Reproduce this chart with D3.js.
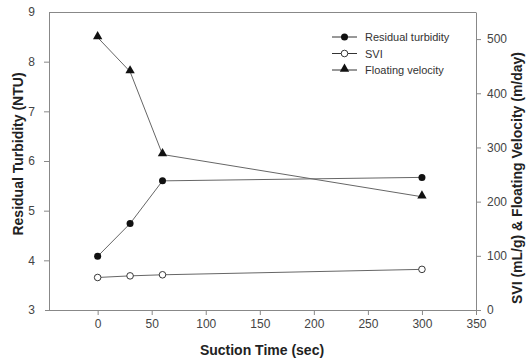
<!DOCTYPE html>
<html>
<head>
<meta charset="utf-8">
<script src="https://cdn.jsdelivr.net/npm/d3@7"></script>
<style>
  body { margin: 0; background: #fff; }
  text { font-family: "Liberation Sans", Arial, sans-serif; }
</style>
</head>
<body>
<svg id="chart" width="530" height="361"></svg>
<script>
// suction time (sec)
var times = [0, 30, 60, 300]
var turbidity = [4.08, 4.74, 5.6, 5.67]   // NTU, left axis
var svi = [60, 63, 65, 75]                // mL/g, right axis
var velocity = [503, 440, 287, 209]       // m/day, right axis
var xTicks = [0, 50, 100, 150, 200, 250, 300, 350]
var yLeftTicks = [3, 4, 5, 6, 7, 8, 9]
var yRightTicks = [0, 100, 200, 300, 400, 500]

var svg = d3.select('#chart')
var plotL = 49, plotR = 476, plotT = 12, plotB = 310

var x = d3.scaleLinear().domain([-45, 350]).range([plotL, plotR])
var yL = d3.scaleLinear().domain([3, 9]).range([plotB, plotT])
var yR = d3.scaleLinear().domain([0, 550]).range([plotB, plotT])

var axisColor = '#888'
var textColor = '#444'

// frame top
svg.append('line').attr('x1', plotL).attr('x2', plotR).attr('y1', plotT + 0.5).attr('y2', plotT + 0.5)
    .attr('stroke', axisColor)

function styleAxis(g) {
    g.select('.domain').attr('stroke', axisColor)
    g.selectAll('.tick line').attr('stroke', axisColor)
    g.selectAll('.tick text').attr('fill', textColor)
        .style('font-size', '12px')
}

var gx = svg.append('g').attr('transform', 'translate(0,' + plotB + ')')
    .call(d3.axisBottom(x).tickValues(xTicks).tickSize(5).tickSizeOuter(0).tickPadding(4))
gx.call(styleAxis)
gx.select('.domain').attr('d', 'M45,0.5H' + plotR)

var gl = svg.append('g').attr('transform', 'translate(' + plotL + ',0)')
    .call(d3.axisLeft(yL).tickValues(yLeftTicks).tickFormat(d3.format('d'))
        .tickSize(5).tickSizeOuter(0).tickPadding(9))
gl.call(styleAxis)
gl.selectAll('.tick').filter(function(d) { return d == 3 || d == 9 }).select('line').remove()

var gr = svg.append('g').attr('transform', 'translate(' + plotR + ',0)')
    .call(d3.axisRight(yR).tickValues(yRightTicks).tickSize(5).tickSizeOuter(0).tickPadding(6))
gr.call(styleAxis)

// axis titles
svg.append('text').attr('x', 262).attr('y', 355).attr('text-anchor', 'middle')
    .style('font-size', '14px').style('font-weight', 'bold').attr('fill', '#222')
    .text('Suction Time (sec)')
svg.append('text').attr('transform', 'translate(23,154) rotate(-90)').attr('text-anchor', 'middle')
    .style('font-size', '14px').style('font-weight', 'bold').attr('fill', '#222')
    .text('Residual Turbidity (NTU)')
svg.append('text').attr('transform', 'translate(522,178) rotate(-90)').attr('text-anchor', 'middle')
    .style('font-size', '14px').style('font-weight', 'bold').attr('fill', '#222')
    .text('SVI (mL/g) & Floating Velocity (m/day)')

var series = [
    { name: 'Residual turbidity', values: turbidity, y: yL, marker: 'filled' },
    { name: 'SVI', values: svi, y: yR, marker: 'open' },
    { name: 'Floating velocity', values: velocity, y: yR, marker: 'triangle' }
]

var tri = d3.symbol().type(d3.symbolTriangle).size(38)

function drawMarker(g, type) {
    if (type == 'filled') {
        g.append('circle').attr('r', 3.5).attr('fill', '#111')
    } else if (type == 'open') {
        g.append('circle').attr('r', 3.3).attr('fill', '#fff').attr('stroke', '#222').attr('stroke-width', 0.9)
    } else {
        g.append('path').attr('d', tri).attr('fill', '#111').attr('transform', 'translate(0,-1)')
    }
}

series.forEach(function(s) {
    var line = d3.line()
        .x(function(d, i) { return x(times[i]) })
        .y(function(d) { return s.y(d) })
    svg.append('path').datum(s.values).attr('d', line)
        .attr('fill', 'none').attr('stroke', '#666').attr('stroke-width', 1)
    s.values.forEach(function(v, i) {
        var g = svg.append('g').attr('transform', 'translate(' + x(times[i]) + ',' + s.y(v) + ')')
        drawMarker(g, s.marker)
    })
})

// legend
var legend = svg.append('g')
series.forEach(function(s, i) {
    var ly = 37 + i * 16.5
    legend.append('line').attr('x1', 332).attr('x2', 357).attr('y1', ly).attr('y2', ly)
        .attr('stroke', '#333')
    var g = legend.append('g').attr('transform', 'translate(344.5,' + ly + ')')
    drawMarker(g, s.marker)
    legend.append('text').attr('x', 365).attr('y', ly + 4)
        .style('font-size', '11px').attr('fill', '#333').text(s.name)
})
</script>
</body>
</html>
